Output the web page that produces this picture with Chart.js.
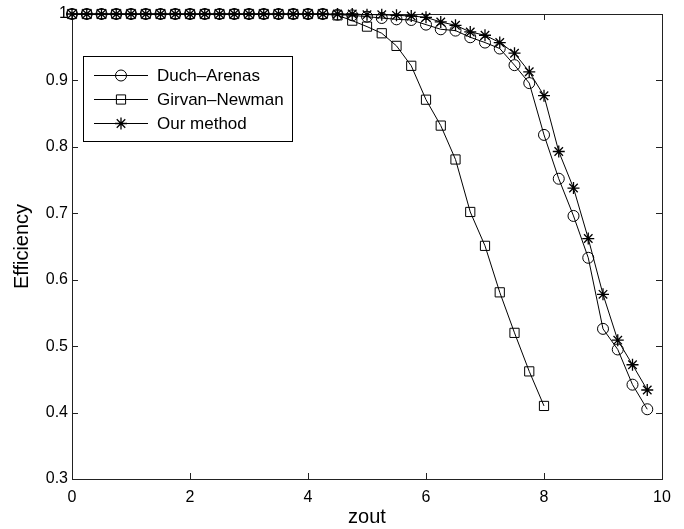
<!DOCTYPE html>
<html>
<head>
<meta charset="utf-8">
<script src="https://cdn.jsdelivr.net/npm/chart.js@4.4.1/dist/chart.umd.min.js"></script>
<style>
  html, body { margin: 0; padding: 0; background: #fff; }
</style>
</head>
<body>
<canvas id="chart" width="684" height="529"></canvas>
<script>
// x positions (zout), one marker every 0.25
const zout = [0, 0.25, 0.5, 0.75, 1, 1.25, 1.5, 1.75, 2, 2.25, 2.5, 2.75, 3, 3.25, 3.5, 3.75,
              4, 4.25, 4.5, 4.75, 5, 5.25, 5.5, 5.75, 6, 6.25, 6.5, 6.75, 7, 7.25, 7.5, 7.75,
              8, 8.25, 8.5, 8.75, 9, 9.25, 9.5, 9.75];

const duchArenas = [1, 1, 1, 1, 1, 1, 1, 1, 1, 1, 1, 1, 1, 1, 1, 1, 1, 1,
                    0.999, 0.998, 0.996, 0.994, 0.992, 0.991, 0.984, 0.977, 0.975, 0.965,
                    0.957, 0.948, 0.923, 0.896, 0.818, 0.752, 0.696, 0.633, 0.526, 0.495,
                    0.442, 0.405];

const girvanNewman = [1, 1, 1, 1, 1, 1, 1, 1, 1, 1, 1, 1, 1, 1, 1, 1, 1, 1,
                     0.998, 0.990, 0.981, 0.971, 0.952, 0.922, 0.871, 0.832, 0.781, 0.702,
                     0.651, 0.581, 0.520, 0.462, 0.410];

const ourMethod = [1, 1, 1, 1, 1, 1, 1, 1, 1, 1, 1, 1, 1, 1, 1, 1, 1, 1, 1, 1,
                   0.999, 0.999, 0.998, 0.997, 0.995, 0.988, 0.983, 0.973, 0.968, 0.957,
                   0.941, 0.913, 0.877, 0.793, 0.738, 0.662, 0.578, 0.509, 0.472, 0.434];

const xTicks = [0, 2, 4, 6, 8, 10];
const yTicks = [0.3, 0.4, 0.5, 0.6, 0.7, 0.8, 0.9, 1];

const FONT = '"Liberation Sans", Arial, Helvetica, sans-serif';

const toPoints = (ys) => ys.map((y, i) => ({ x: zout[i], y: y }));

const series = (label, ys, style, r, bw) => ({
    label: label,
    data: toPoints(ys),
    borderColor: "#000",
    borderWidth: 1,
    pointStyle: style,
    pointRadius: r,
    pointHoverRadius: r,
    pointBorderColor: "#000",
    pointBackgroundColor: "rgba(0,0,0,0)",
    pointBorderWidth: bw,
    tension: 0,
    clip: false,
});

// matlab style box with inward tick marks
const boxTicks = {
    id: "boxTicks",
    beforeDatasetsDraw(chart) {
        const { ctx, chartArea: a, scales } = chart;
        const len = 6;
        ctx.save();
        ctx.strokeStyle = "#222";
        ctx.lineWidth = 1;
        ctx.beginPath();
        for (const v of xTicks) {
            const px = Math.round(scales.x.getPixelForValue(v)) + 0.5;
            ctx.moveTo(px, a.bottom); ctx.lineTo(px, a.bottom - len);
            ctx.moveTo(px, a.top); ctx.lineTo(px, a.top + len);
        }
        for (const v of yTicks) {
            const py = Math.round(scales.y.getPixelForValue(v)) + 0.5;
            ctx.moveTo(a.left, py); ctx.lineTo(a.left + len, py);
            ctx.moveTo(a.right, py); ctx.lineTo(a.right - len, py);
        }
        ctx.stroke();
        ctx.strokeRect(Math.round(a.left) + 0.5, Math.round(a.top) + 0.5,
                       Math.round(a.right - a.left), Math.round(a.bottom - a.top));
        ctx.restore();
    },
};

// legend box inside the axes, top left
const boxLegend = {
    id: "boxLegend",
    afterDraw(chart) {
        const ctx = chart.ctx;
        const x0 = 83, y0 = 56, w = 209, h = 85;
        ctx.save();
        ctx.fillStyle = "#fff";
        ctx.fillRect(x0, y0, w, h);
        ctx.strokeStyle = "#000";
        ctx.lineWidth = 1;
        ctx.strokeRect(x0 + 0.5, y0 + 0.5, w, h);
        ctx.font = "17px " + FONT;
        ctx.textBaseline = "middle";
        chart.data.datasets.forEach((ds, i) => {
            const y = y0 + 19 + i * 24;
            ctx.strokeStyle = "#000";
            ctx.lineWidth = 1;
            ctx.beginPath();
            ctx.moveTo(x0 + 11, y + 0.5);
            ctx.lineTo(x0 + 65, y + 0.5);
            ctx.stroke();
            if (Chart.helpers && Chart.helpers.drawPoint) {
                ctx.fillStyle = "rgba(0,0,0,0)";
                ctx.lineWidth = ds.pointBorderWidth;
                Chart.helpers.drawPoint(ctx, {
                    pointStyle: ds.pointStyle,
                    radius: ds.pointRadius,
                    borderWidth: ds.pointBorderWidth,
                    rotation: 0,
                }, x0 + 38, y + 0.5);
            }
            ctx.fillStyle = "#000";
            ctx.fillText(ds.label, x0 + 74, y + 1);
        });
        ctx.restore();
    },
};

new Chart(document.getElementById("chart"), {
    type: "line",
    plugins: [boxTicks, boxLegend],
    data: {
        datasets: [
            series("Duch–Arenas", duchArenas, "circle", 5.5, 1),
            series("Girvan–Newman", girvanNewman, "rect", 6.5, 1),
            series("Our method", ourMethod, "star", 6, 1.3),
        ],
    },
    options: {
        responsive: false,
        animation: false,
        events: [],
        layout: { padding: { left: 0, top: 14, right: 22, bottom: 0 } },
        plugins: {
            legend: { display: false },
            tooltip: { enabled: false },
        },
        scales: {
            x: {
                type: "linear",
                min: 0,
                max: 10,
                afterBuildTicks: (s) => { s.ticks = xTicks.map((v) => ({ value: v })); },
                afterFit: (s) => { s.height = 50; },
                grid: { display: false, drawTicks: false },
                border: { display: false },
                ticks: {
                    color: "#000",
                    padding: 9,
                    maxRotation: 0,
                    font: { family: FONT, size: 16 },
                    callback: (v) => String(v),
                },
                title: {
                    display: true,
                    text: "zout",
                    color: "#000",
                    padding: { top: 0, bottom: 0 },
                    font: { family: FONT, size: 20 },
                },
            },
            y: {
                type: "linear",
                min: 0.3,
                max: 1,
                afterBuildTicks: (s) => { s.ticks = yTicks.map((v) => ({ value: v })); },
                afterFit: (s) => { s.width = 72; },
                grid: { display: false, drawTicks: false },
                border: { display: false },
                ticks: {
                    color: "#000",
                    padding: 4,
                    font: { family: FONT, size: 16 },
                    callback: (v) => String(+v.toFixed(1)),
                },
                title: {
                    display: true,
                    text: "Efficiency",
                    color: "#000",
                    padding: { top: 10, bottom: 0 },
                    font: { family: FONT, size: 20 },
                },
            },
        },
    },
});
</script>
</body>
</html>
